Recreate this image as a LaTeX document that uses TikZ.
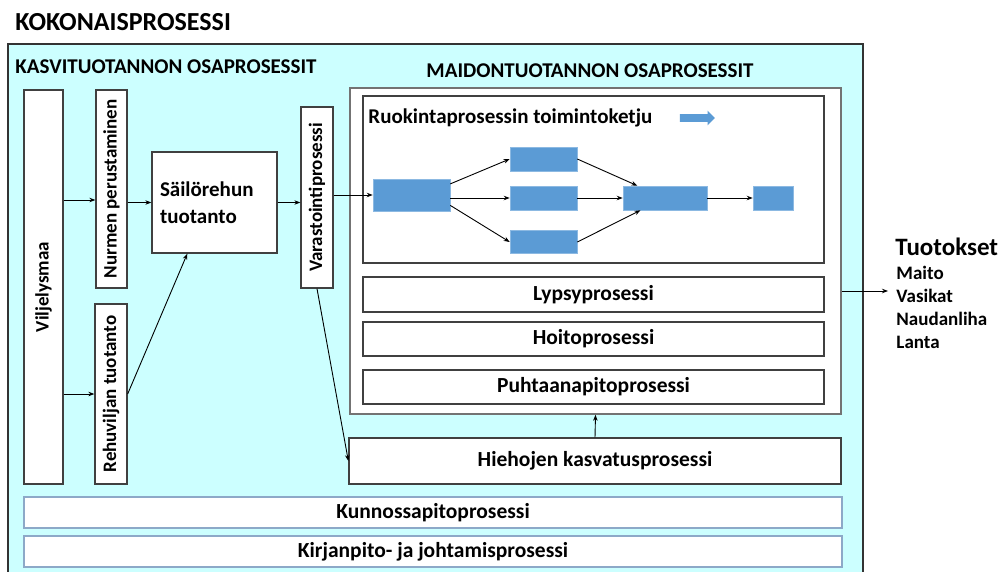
\documentclass[tikz,border=0pt]{standalone}
\usepackage{fontspec}
\setmainfont{Carlito}
\usepackage{graphicx}
\usetikzlibrary{arrows.meta, shapes.arrows}

\definecolor{bgcyan}{RGB}{204,255,255}
\definecolor{flowblue}{RGB}{91,155,213}
\definecolor{pale}{RGB}{141,169,200}

\tikzset{
  proc/.style={draw=black!75, line width=1.3pt, fill=white, inner sep=0pt,
    font=\fontsize{21.5}{25}\selectfont\bfseries},
  vproc/.style={proc, font=\fontsize{19}{23}\selectfont\bfseries},
  support/.style={proc, draw=pale, line width=1.1pt},
  flowbox/.style={fill=flowblue, draw=flowblue!70!white, line width=0.6pt, inner sep=0pt},
  heading/.style={inner sep=0pt, font=\fontsize{21}{25}\selectfont\bfseries},
}

\begin{document}
\begin{tikzpicture}[x=1pt, y=-1pt, ->, >={Stealth[length=6pt,width=4.5pt]}, line width=0.9pt]
\useasboundingbox (0,0) rectangle (1003,571);

% kokonaisprosessi
\node[draw=black!80, line width=1.6pt, fill=bgcyan, inner sep=0pt,
  minimum width=855, minimum height=540] (koko) at (435.5,314) {};
\node[heading, anchor=west, font=\fontsize{26}{30}\selectfont\bfseries] (kokotitle) at (15,22) {KOKONAISPROSESSI};
\node[heading, anchor=west] (kasvititle) at (15,67) {KASVITUOTANNON OSAPROSESSIT};
\node[heading] (maidontitle) at (590,71) {MAIDONTUOTANNON OSAPROSESSIT};

% kasvituotanto
\node[vproc, minimum width=39, minimum height=394] (vilj) at (43.5,287) {\rotatebox{90}{Viljelysmaa}};
\node[vproc, minimum width=31, minimum height=198] (nurmi) at (111.5,189) {\rotatebox{90}{Nurmen perustaminen}};
\node[vproc, minimum width=32, minimum height=180] (rehu) at (111,394) {\rotatebox{90}{Rehuviljan tuotanto}};
\node[proc, minimum width=125, minimum height=101, text width=109, align=left,
  font=\fontsize{21}{27}\selectfont\bfseries] (sailo) at (214.5,202.5) {Säilörehun\\tuotanto};
\node[vproc, minimum width=32, minimum height=181] (varasto) at (317,197.5) {\rotatebox{90}{Varastointiprosessi}};

% maidontuotanto
\node[proc, draw=black!55, line width=1.5pt, minimum width=491, minimum height=326] (maidon) at (595.5,251) {};
\node[proc, draw=black!75, minimum width=461, minimum height=167] (ruok) at (593.5,179.5) {};
\node[heading, anchor=west] (ruoktitle) at (368,118) {Ruokintaprosessin toimintoketju};
\node[single arrow, fill=flowblue, inner xsep=0pt, inner ysep=3.5pt, minimum height=35,
  single arrow head extend=3.5pt] (ketju) at (695.5,118) {};

\node[flowbox, minimum width=77, minimum height=32] (rk1) at (411.5,195) {};
\node[flowbox, minimum width=67, minimum height=24] (rk2a) at (543.5,159) {};
\node[flowbox, minimum width=67, minimum height=24] (rk2b) at (543.5,198) {};
\node[flowbox, minimum width=67, minimum height=23] (rk2c) at (543.5,242) {};
\node[flowbox, minimum width=84, minimum height=24] (rk3) at (665,198) {};
\node[flowbox, minimum width=40, minimum height=24] (rk4) at (773,198) {};

\node[proc, minimum width=461, minimum height=35] (lypsy) at (593.5,294.5) {Lypsyprosessi};
\node[proc, minimum width=461, minimum height=34] (hoito) at (593.5,339) {Hoitoprosessi};
\node[proc, minimum width=461, minimum height=34] (puhtaus) at (593.5,387) {Puhtaanapitoprosessi};
\node[proc, minimum width=492, minimum height=46] (hieho) at (595,461) {Hiehojen kasvatusprosessi};

% tukiprosessit
\node[support, minimum width=818, minimum height=31] (kunnossa) at (433,512.5) {Kunnossapitoprosessi};
\node[support, minimum width=818, minimum height=31] (kirjanpito) at (433,551.5) {Kirjanpito- ja johtamisprosessi};

% tuotokset
\node[heading, anchor=west, font=\fontsize{25}{30}\selectfont\bfseries] (tuotokset) at (895,247) {Tuotokset};
\node[heading, anchor=north west, align=left, font=\fontsize{19}{23}\selectfont\bfseries] (tuotteet) at (896,266) {Maito\\Vasikat\\Naudanliha\\Lanta};

% nuolet
\draw (vilj.east |- 0,200) -- (nurmi.west |- 0,200);
\draw (vilj.east |- rehu) -- (rehu.west);
\draw (nurmi.east |- sailo) -- (sailo.west);
\draw (rehu.east) -- (sailo.-118);
\draw (sailo.east) -- (varasto.west |- sailo.east);
\draw (varasto.east |- rk1) -- (rk1.west);
\draw (varasto.south) -- (hieho.west);
\draw (rk1.16) -- (rk2a.west);
\draw (rk1.east |- rk2b) -- (rk2b.west);
\draw (rk1.-15) -- (rk2c.west);
\draw (rk2a.east) -- (rk3);
\draw (rk2b.east) -- (rk3.west);
\draw (rk2c.east) -- (rk3);
\draw (rk3) -- (rk4);
\draw (hieho.north) -- (maidon.south);
\draw[shorten >=8pt] (maidon.east |- 0,291) -- (tuotteet.west |- 0,291);
\end{tikzpicture}
\end{document}
